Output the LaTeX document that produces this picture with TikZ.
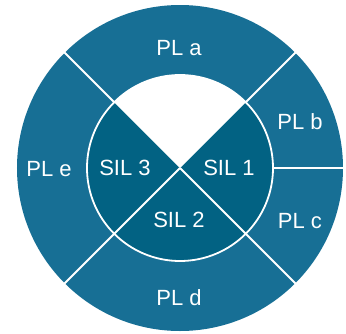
\documentclass[tikz,border=0pt]{standalone}
\usepackage{fontspec}
\setmainfont{Liberation Sans}
\definecolor{ringblue}{RGB}{23,111,149}
\definecolor{coreblue}{RGB}{2,98,131}
\begin{document}
\begin{tikzpicture}[x=1pt,y=1pt,
  lbl/.style={text=white,font=\fontsize{22}{26}\selectfont,inner sep=0pt},
  divider/.style={draw=white,line width=1.8pt}]
\useasboundingbox (-180,-165) rectangle (166,168);
% outer ring
\fill[ringblue] (0,0) circle[radius=163];
% inner disc
\fill[coreblue] (0,0) circle[radius=93];
\fill[white] (0,0) -- (45:93) arc[start angle=45,end angle=135,radius=93] -- cycle;
\draw[divider] (0,0) circle[radius=93];
% dividers
\coordinate (c) at (0,0);
\foreach \a in {45,135,225,315,0} {
  \coordinate (i\a) at (\a:93);
  \coordinate (o\a) at (\a:164);
  \draw[divider] (i\a) -- (o\a);
}
\draw[divider] (c) -- (i225);
\draw[divider] (c) -- (i315);
% labels
\node[lbl] (pla) at (-1,120) {PL a};
\node[lbl] (plb) at (120,46) {PL b};
\node[lbl] (plc) at (120,-53) {PL c};
\node[lbl] (pld) at (-1,-130) {PL d};
\node[lbl] (ple) at (-131,-1) {PL e};
\node[lbl] (sil3) at (-55,0) {SIL 3};
\node[lbl] (sil1) at (49,0) {SIL 1};
\node[lbl] (sil2) at (-1,-52) {SIL 2};
\end{tikzpicture}
\end{document}
